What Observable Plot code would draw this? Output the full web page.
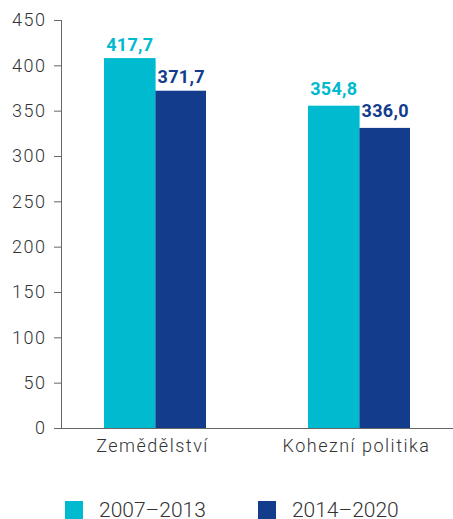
<!DOCTYPE html>
<html>
<head>
<meta charset="utf-8">
<script src="https://cdn.jsdelivr.net/npm/d3@7"></script>
<script src="https://cdn.jsdelivr.net/npm/@observablehq/plot@0.6"></script>
<style>
  html, body { margin: 0; padding: 0; background: #fff; }
  #chart { width: 453px; }
  .legend { display: flex; align-items: center; margin-top: 31px; padding-left: 65px;
    font-family: Roboto, sans-serif; font-weight: 300; font-size: 21px; letter-spacing: 0; color: #333; }
  .legend .item { display: flex; align-items: center; margin-right: 52px; height: 18px; }
  .legend .item span { line-height: 16px; display: block; }
  .legend .sw { width: 18px; height: 18px; margin-right: 16px; }
</style>
</head>
<body>
<div id="chart"></div>
<script>
const categories = ["Zemědělství", "Kohezní politika"];
const periods = ["2007–2013", "2014–2020"];
const values2007 = [408, 355.5];
const values2014 = [372, 331];
const labels2007 = ["417,7", "354,8"];
const labels2014 = ["371,7", "336,0"];
const colors = ["#00BAD0", "#143C8C"];
const yTicks = [0, 50, 100, 150, 200, 250, 300, 350, 400, 450];

const W = 453, H = 470, mL = 61, mR = 0, mT = 20, mB = 42;
const padIn = 0.498, padOut = 0.206;
const bw = d3.scaleBand().domain(categories).range([mL, W - mR])
  .paddingInner(padIn).paddingOuter(padOut).bandwidth();

const d07 = categories.map((c, i) => ({category: c, period: periods[0], value: values2007[i], label: labels2007[i]}));
const d14 = categories.map((c, i) => ({category: c, period: periods[1], value: values2014[i], label: labels2014[i]}));
const labelDy = [-8, -11.5];

const labelMarks = [];
categories.forEach((c, i) => {
  labelMarks.push(Plot.text(d07.filter(d => d.category === c), {x: "category", y: "value", text: "label", fill: "period",
    dx: -bw / 4, lineAnchor: "bottom", dy: labelDy[i], fontWeight: "bold", fontSize: 18, className: "vlabel"}));
  labelMarks.push(Plot.text(d14.filter(d => d.category === c), {x: "category", y: "value", text: "label", fill: "period",
    dx: bw / 4, lineAnchor: "bottom", dy: labelDy[i], fontWeight: "bold", fontSize: 18, className: "vlabel"}));
});

const plot = Plot.plot({
  width: W,
  height: H,
  marginLeft: mL,
  marginTop: mT,
  marginRight: mR,
  marginBottom: mB,
  style: {fontFamily: "Roboto, sans-serif", fontSize: "18px", color: "#333", background: "#fff"},
  x: {domain: categories, paddingInner: padIn, paddingOuter: padOut, label: null},
  y: {domain: [0, 450], ticks: yTicks, label: null},
  color: {domain: periods, range: colors},
  marks: [
    Plot.barY(d07, {x: "category", y: "value", fill: "period", insetRight: bw / 2 - 1}),
    Plot.barY(d14, {x: "category", y: "value", fill: "period", insetLeft: bw / 2}),
    ...labelMarks,
    Plot.axisY({ticks: yTicks, tickSize: 7, tickPadding: 8, label: null, stroke: "#666",
      fontWeight: 300}),
    Plot.axisX({anchor: "bottom", tickSize: 0, tickPadding: 11, dx: -3, label: null, fontWeight: 300}),
    Plot.ruleY([0], {stroke: "#666"}),
    Plot.frame({anchor: "left", stroke: "#666"})
  ]
});
plot.style.letterSpacing = "1.5px";
plot.querySelectorAll("g.vlabel").forEach(g => g.style.letterSpacing = "0.3px");
document.getElementById("chart").appendChild(plot);

const legend = document.createElement("div");
legend.className = "legend";
periods.forEach((p, i) => {
  const item = document.createElement("div");
  item.className = "item";
  const sw = document.createElement("div");
  sw.className = "sw";
  sw.style.background = colors[i];
  const t = document.createElement("span");
  t.textContent = p;
  item.appendChild(sw);
  item.appendChild(t);
  legend.appendChild(item);
});
document.getElementById("chart").appendChild(legend);
</script>
</body>
</html>
